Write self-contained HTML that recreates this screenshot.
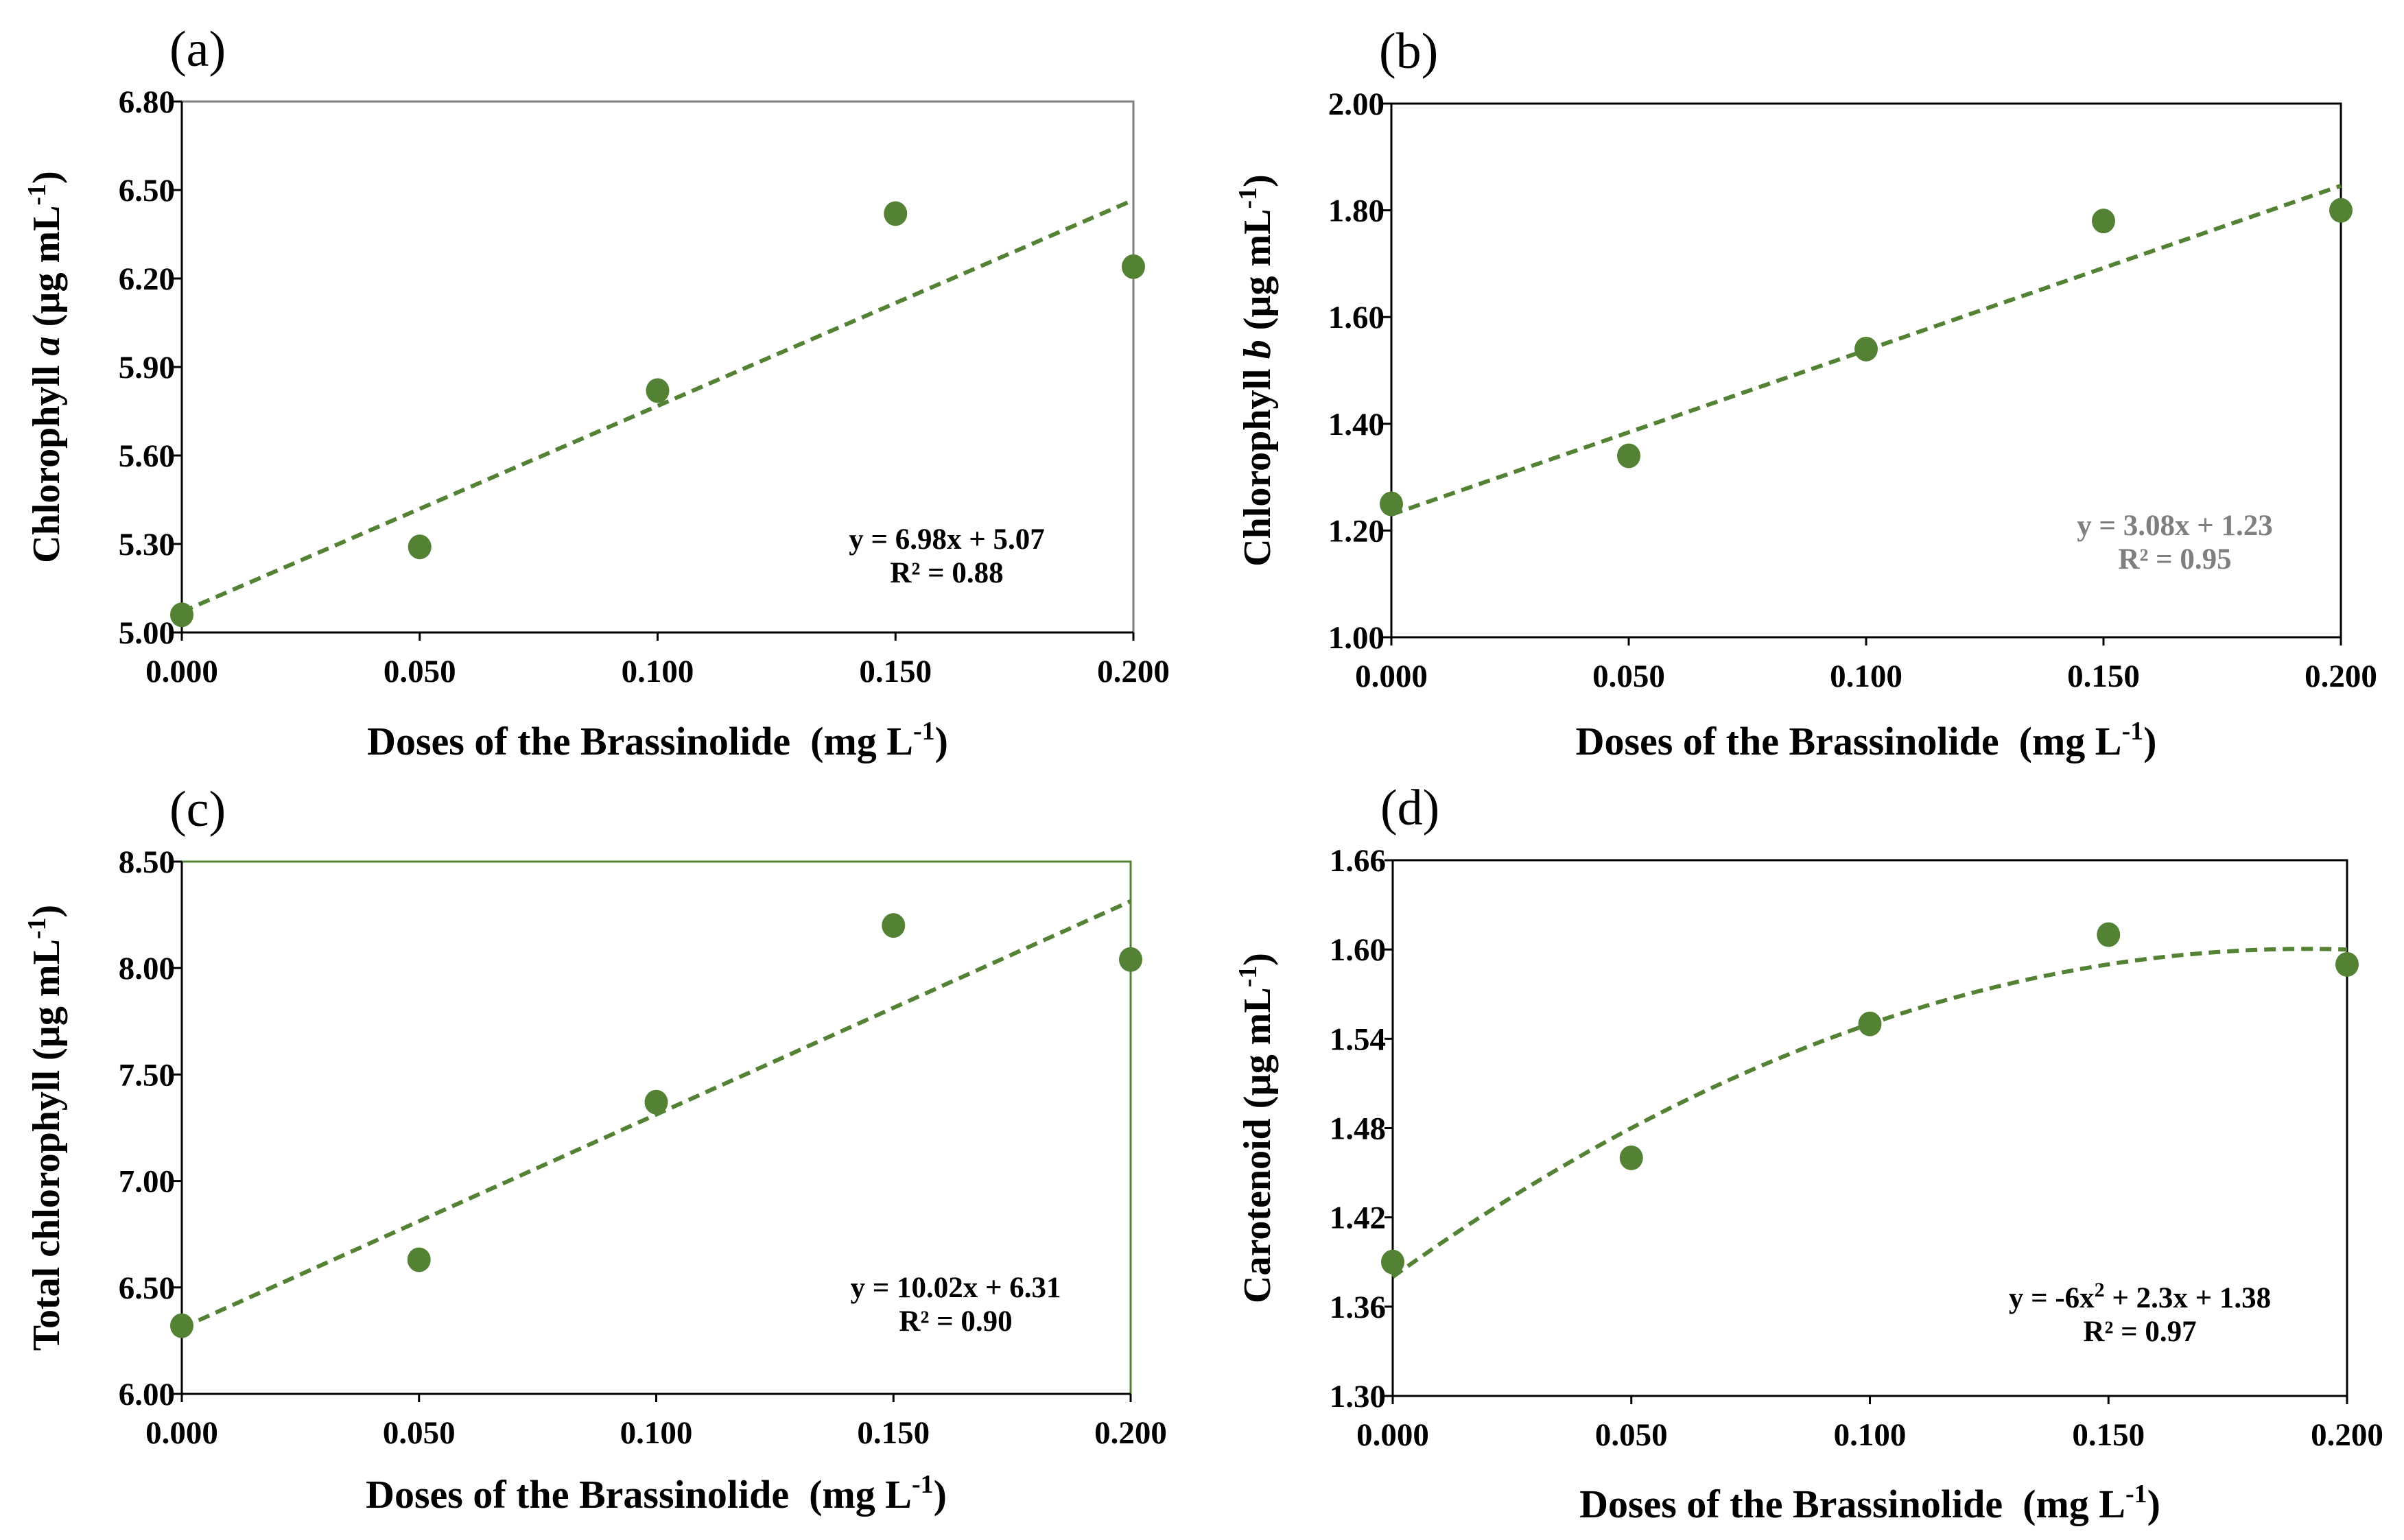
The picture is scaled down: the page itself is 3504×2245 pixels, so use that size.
<!DOCTYPE html>
<html><head><meta charset="utf-8"><style>
body{margin:0;background:#fff}
svg{display:block}
text{font-family:"Liberation Serif","Times New Roman",serif}
</style></head><body>
<svg id="fig" width="3504" height="2245" viewBox="0 0 3504 2245" xmlns="http://www.w3.org/2000/svg"></svg>
<script>
const doses = [0, 0.05, 0.1, 0.15, 0.2];
const xTickLabels = ["0.000","0.050","0.100","0.150","0.200"];
const chlA = [5.06, 5.29, 5.82, 6.42, 6.24];
const chlB = [1.25, 1.34, 1.54, 1.78, 1.80];
const totalChl = [6.32, 6.63, 7.37, 8.20, 8.04];
const carot = [1.39, 1.46, 1.55, 1.61, 1.59];
const yTicksA = [5.00, 5.30, 5.60, 5.90, 6.20, 6.50, 6.80];
const yTicksB = [1.00, 1.20, 1.40, 1.60, 1.80, 2.00];
const yTicksC = [6.00, 6.50, 7.00, 7.50, 8.00, 8.50];
const yTicksD = [1.30, 1.36, 1.42, 1.48, 1.54, 1.60, 1.66];
const trendA = [6.98, 5.07];
const trendB = [3.08, 1.23];
const trendC = [10.02, 6.31];
const trendD = [-6, 2.3, 1.38];

const NS = "http://www.w3.org/2000/svg";
const svg = document.getElementById('fig');
const GREEN = "#548235";
function el(tag, attrs, parent, txt){
  const e = document.createElementNS(NS, tag);
  for (const k in attrs) e.setAttribute(k, attrs[k]);
  if (txt !== undefined) e.textContent = txt;
  (parent||svg).appendChild(e);
  return e;
}
function panel(o){
  const g = el('g', {});
  
  
  const {x0,x1,y0,y1} = o;
  const ymin = o.ticks[0], ymax = o.ticks[o.ticks.length-1];
  const sx = v => x0 + (v - doses[0]) / (doses[doses.length-1] - doses[0]) * (x1 - x0);
  const sy = v => y1 - (v - ymin) / (ymax - ymin) * (y1 - y0);
  const fr = el('path', {d:`M${x0},${y0}H${x1}V${y1}`, fill:'none', stroke:o.frame, 'stroke-width':3}, g);
  
  
  const ya = el('line', {x1:x0,y1:y0,x2:x0,y2:y1, stroke:'#000','stroke-width':3}, g);
  
  
  const xa = el('line', {x1:x0,y1:y1,x2:x1,y2:y1, stroke:'#000','stroke-width':3}, g);
  
  
  o.ticks.forEach(t=>{
    el('line',{x1:x0-12,y1:sy(t),x2:x0,y2:sy(t),stroke:'#000','stroke-width':3},g);
    const tl = el('text',{x:x0-10,y:sy(t)+16,'text-anchor':'end','font-size':47,'font-weight':'bold'},g,t.toFixed(2));
    
    
  });
  doses.forEach((d,i)=>{
    el('line',{x1:sx(d),y1:y1,x2:sx(d),y2:y1+12,stroke:'#000','stroke-width':3},g);
    const tl = el('text',{x:sx(d),y:y1+72,'text-anchor':'middle','font-size':47,'font-weight':'bold'},g,xTickLabels[i]);
    
    
  });
  let pts = [];
  for (let k=0;k<=100;k++){
    const x = doses[0] + (doses[doses.length-1]-doses[0])*k/100;
    let y = 0; const c = o.trend;
    for (let j=0;j<c.length;j++) y += c[j]*Math.pow(x, c.length-1-j);
    pts.push(sx(x).toFixed(1)+','+sy(y).toFixed(1));
  }
  const tr = el('polyline',{points:pts.join(' '),fill:'none',stroke:GREEN,'stroke-width':6,'stroke-dasharray':'17 10'},g);
  
  
  o.data.forEach((v,i)=>{
    const p = el('ellipse',{cx:sx(doses[i]),cy:sy(v),rx:17,ry:18,fill:GREEN},g);
    
    
  });
  const eq = el('text',{x:o.eqx,y:o.eqy,'text-anchor':'middle','font-size':43,'font-weight':'bold',fill:o.eqColor},g);
  
  
  eq.innerHTML = o.eq;
  const r2 = el('text',{x:o.eqx,y:o.eqy+49,'text-anchor':'middle','font-size':43,'font-weight':'bold',fill:o.eqColor},g,o.r2);
  
  
  const pl = el('text',{x:x0-18,y:y0-52,'font-size':74},g,'('+o.id+')');
  
  
  const xt = el('text',{x:(x0+x1)/2,y:o.xty,'text-anchor':'middle','font-size':58,'font-weight':'bold'},g);
  
  
  xt.innerHTML = 'Doses of the Brassinolide\u00a0 (mg L<tspan dy="-22" font-size="38">-1</tspan><tspan dy="22">)</tspan>';
  const yt = el('text',{x:0,y:0,'text-anchor':'middle','font-size':56,'font-weight':'bold',transform:`translate(${o.ytx},${(y0+y1)/2}) rotate(-90)`},g);
  
  
  yt.innerHTML = o.ytitle + ' (µg mL<tspan dy="-20" font-size="38">-1</tspan><tspan dy="20">)</tspan>';
}
panel({id:'a',x0:265,x1:1652,y0:148,y1:922,ticks:yTicksA,data:chlA,trend:trendA,frame:'#808080',
  eq:'y = 6.98x + 5.07',r2:'R² = 0.88',eqColor:'#000',eqx:1380,eqy:800,xty:1100,ytx:86,
  ytitle:'Chlorophyll <tspan font-style="italic">a</tspan>'});
panel({id:'b',x0:2028,x1:3412,y0:151,y1:929,ticks:yTicksB,data:chlB,trend:trendB,frame:'#000',
  eq:'y = 3.08x + 1.23',r2:'R² = 0.95',eqColor:'#7f7f7f',eqx:3170,eqy:780,xty:1100,ytx:1851,
  ytitle:'Chlorophyll <tspan font-style="italic">b</tspan>'});
panel({id:'c',x0:265,x1:1648,y0:1256,y1:2032,ticks:yTicksC,data:totalChl,trend:trendC,frame:GREEN,
  eq:'y = 10.02x + 6.31',r2:'R² = 0.90',eqColor:'#000',eqx:1393,eqy:1891,xty:2198,ytx:86,
  ytitle:'Total chlorophyll'});
panel({id:'d',x0:2030,x1:3421,y0:1254,y1:2035,ticks:yTicksD,data:carot,trend:trendD,frame:'#000',
  eq:'y = -6x<tspan dy="-16" font-size="30">2</tspan><tspan dy="16"> + 2.3x + 1.38</tspan>',r2:'R² = 0.97',eqColor:'#000',eqx:3119,eqy:1906,xty:2212,ytx:1851,
  ytitle:'Carotenoid'});
</script>
</body></html>
